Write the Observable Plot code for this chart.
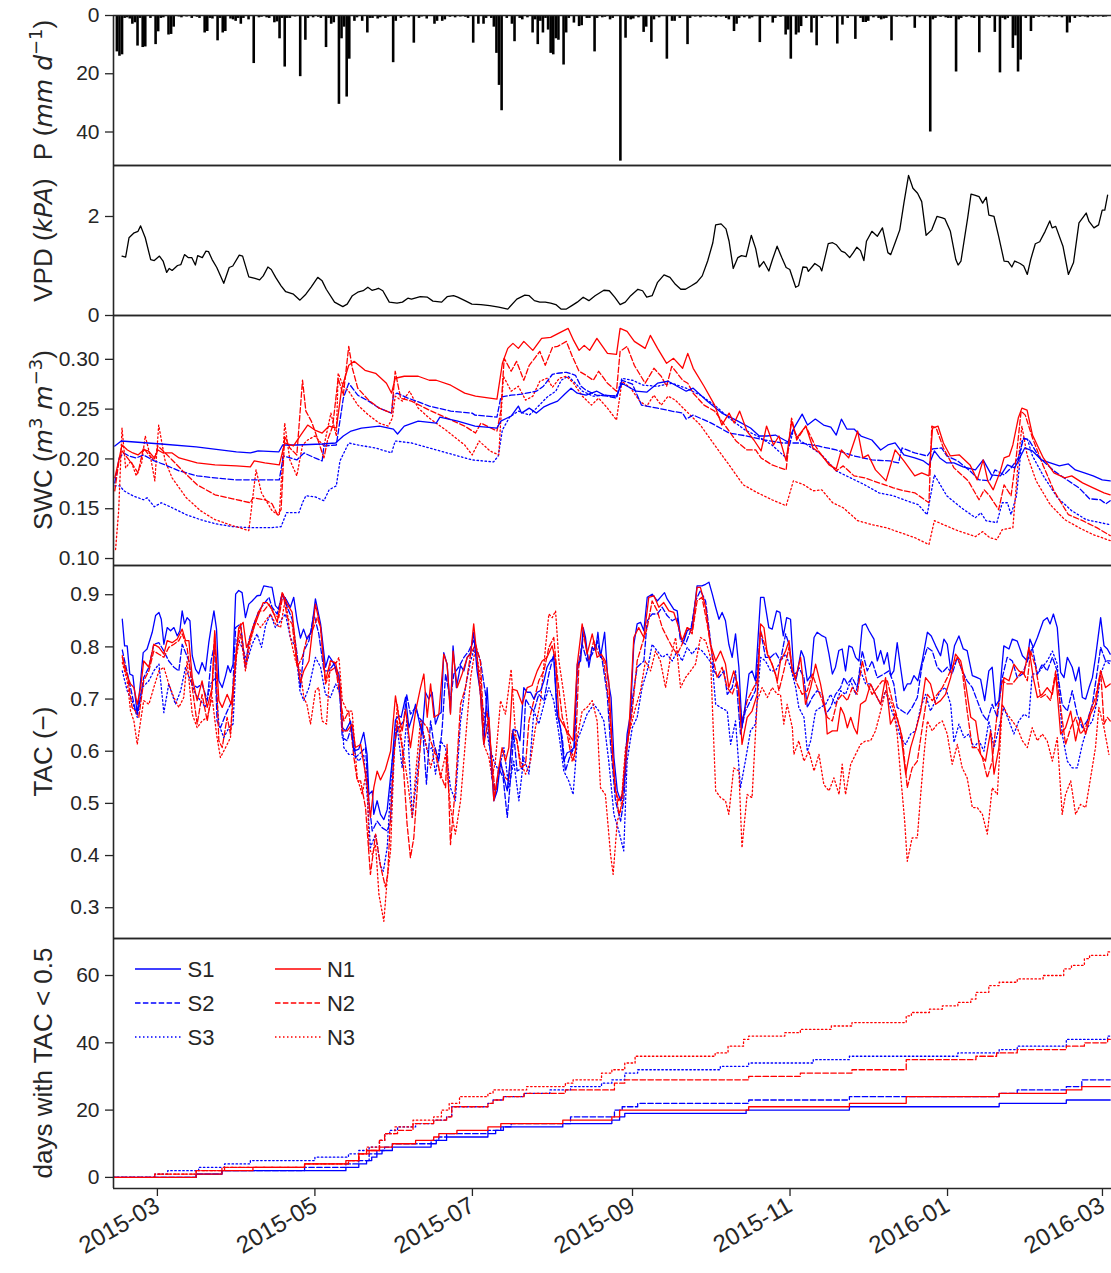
<!DOCTYPE html>
<html><head><meta charset="utf-8">
<script src="https://cdn.jsdelivr.net/npm/d3@7"></script>
<script src="https://cdn.jsdelivr.net/npm/@observablehq/plot@0.6"></script>
<style>
body{margin:0;background:#fff;}
#chart{width:1111px;}
#chart svg{display:block;overflow:visible;}
</style></head><body><div id="chart"></div>
<script>
// ---- data (day = days since 2015-02-12) ----
const precip = [[1,12.5],[2,14],[3,13.5],[4,1],[5,0.8],[6,1.2],[7,3],[8,2.5],[9,10.5],[10,1],[11,11],[12,10.8],[14,1],[16,10],[17,5.6],[18,1],[19,0.8],[21,6.7],[22,6.5],[23,4],[25,0.5],[26,0.8],[28,0.5],[30,1],[32,0.6],[33,1],[35,6],[36,5.5],[37,1],[38,1.2],[40,8.7],[41,1],[42,6],[43,5.5],[45,1.2],[46,1.5],[47,2],[48,1],[49,3],[50,1],[52,1.5],[54,16.5],[56,0.8],[57,0.6],[59,0.8],[60,1],[62,2.5],[63,2.2],[64,8],[65,1],[66,17.7],[67,1],[68,1],[70,0.5],[72,21],[74,8.5],[75,1],[77,0.8],[79,0.6],[80,1],[82,11],[83,1],[84,3],[85,2.5],[87,30.5],[88,8],[89,4],[90,28],[91,15],[93,2],[94,0.8],[96,2],[98,6],[99,1],[100,1],[102,1.2],[103,0.8],[105,1],[106,0.5],[108,16.2],[109,2],[111,1],[112,0.5],[114,0.8],[116,9.5],[118,1],[119,0.5],[121,1.2],[124,3],[125,2],[127,2],[128,1.5],[130,0.6],[132,0.8],[134,0.5],[136,0.6],[137,1],[139,9.5],[141,3],[143,3],[144,1],[146,1],[147,4],[148,13],[149,24],[150,32.7],[152,1],[154,3],[155,9],[157,1],[158,1.5],[160,0.8],[162,6],[163,1.5],[164,10],[165,2],[166,6],[167,1],[168,5],[169,13],[170,13.5],[171,8],[172,8.5],[174,17],[175,6],[176,1],[178,2.6],[180,3.8],[181,3.5],[183,1],[184,1],[186,12.5],[187,1],[189,0.8],[190,0.6],[192,1.5],[193,1],[196,50],[198,7.8],[199,1],[200,1.5],[201,1.2],[203,0.8],[205,5.8],[206,4],[208,9.3],[209,1.5],[211,0.8],[214,15],[216,2],[217,2],[219,1],[222,10],[223,1],[225,0.5],[227,0.8],[229,0.5],[231,0.6],[233,0.8],[235,0.5],[237,1],[238,1.5],[240,5.5],[241,3],[242,1],[244,0.8],[246,1.2],[247,0.8],[250,9.3],[251,1],[253,0.8],[255,2.6],[256,1],[258,0.6],[260,6.7],[261,5],[262,15],[264,6.7],[265,6],[266,3.8],[268,1],[270,6],[271,1],[272,10.4],[274,1],[276,0.5],[278,0.8],[280,9.8],[282,3.3],[284,1],[287,8.2],[289,1],[290,2.4],[291,2.4],[292,2],[294,0.8],[296,1],[297,1.5],[298,1.2],[299,1],[301,8.7],[303,0.6],[305,0.5],[307,0.8],[308,0.5],[310,4.4],[312,0.8],[314,1],[316,40],[317,1.5],[318,1],[320,0.6],[322,0.8],[323,1],[324,1],[326,19.4],[327,1.5],[328,1],[330,0.6],[332,0.8],[333,1],[335,12.8],[336,1],[338,0.8],[339,1],[341,5.8],[343,19.7],[344,1],[345,1.5],[346,1],[348,11.3],[349,7],[350,19.4],[351,15.3],[353,1],[355,5.5],[356,1],[358,0.6],[360,0.5],[362,0.8],[364,0.5],[365,0.6],[367,0.8],[369,6],[370,2.6],[372,1],[374,0.6],[376,0.5],[377,0.8],[379,0.6],[381,0.5],[383,0.6],[384,0.5]];

const vpd = [[3.3,1.2],[4.7,1.18],[6,1.57],[8,1.67],[9.5,1.7],[10.5,1.81],[12.3,1.57],[14.4,1.13],[15.8,1.11],[17.8,1.2],[19.2,1.1],[20.6,.87],[21.6,.95],[22.7,.91],[24.8,1.01],[26.1,1.03],[27.5,1.23],[28.9,1.17],[30.3,1.17],[31.7,1.02],[32.6,1.21],[34.4,1.17],[35.8,1.3],[36.8,1.29],[38.2,1.13],[40,.97],[42.7,.65],[44.8,.97],[46.2,1],[48.7,1.22],[50,1.2],[52.4,.78],[54.8,.75],[56.6,.72],[58,.8],[59.8,.98],[61.1,.93],[62.8,.77],[64.9,.6],[66.7,.48],[69.7,.43],[72.2,.31],[74.5,.43],[76.6,.58],[79.1,.77],[80.8,.7],[82.4,.53],[85.6,.27],[88.8,.18],[90.5,.23],[92.5,.4],[94.6,.47],[96.7,.5],[98.5,.57],[100.1,.51],[101.5,.53],[102.6,.55],[104.3,.5],[106.8,.27],[109.8,.25],[111.9,.27],[114,.35],[115.4,.33],[118.8,.38],[121.6,.37],[123.7,.29],[127.1,.27],[129.2,.38],[131.7,.4],[133.3,.37],[136.1,.3],[138.8,.23],[142.3,.22],[145.7,.2],[149.2,.17],[152.7,.13],[156.2,.33],[159.3,.41],[161,.4],[163,.3],[165.1,.27],[167.2,.27],[169.3,.25],[171.3,.22],[173.3,.13],[175.4,.13],[177.5,.2],[179.6,.27],[181.9,.37],[184.1,.3],[186.5,.4],[189.9,.51],[192,.5],[194.1,.37],[196.2,.22],[198.2,.27],[200.3,.4],[203.1,.53],[204.9,.5],[206.5,.37],[208.6,.4],[210.7,.67],[213.2,.82],[215.5,.77],[217.6,.63],[219.7,.53],[221.5,.53],[223.8,.6],[225.9,.67],[228,.8],[230.1,1.1],[232.1,1.47],[233.2,1.83],[235.3,1.85],[237.2,1.75],[238.4,1.5],[240,.95],[241.8,1.17],[243.2,1.21],[245,1.19],[247,1.62],[248.7,1.35],[250.1,.98],[251.8,1.09],[253.8,.9],[255.2,1.13],[257,1.4],[258.8,1.17],[260.5,.97],[261.9,.93],[264.2,.57],[265.3,.6],[267,.98],[268.5,.97],[269.1,.89],[271.6,1.05],[273.6,.98],[274.3,.9],[276.8,1.45],[278.5,1.47],[279.9,1.43],[281.9,1.3],[283.3,1.27],[285.1,1.17],[286.5,1.27],[287.9,1.38],[289.3,1.31],[290.6,1.11],[291.6,1.5],[293.7,1.7],[295.8,1.6],[297.8,1.77],[299.9,1.27],[301,1.23],[302.7,1.47],[304.5,1.73],[306.1,2.27],[307.9,2.83],[309.6,2.57],[311.4,2.47],[313,2.3],[314.7,1.62],[316.9,1.73],[318.9,2],[321,1.97],[322,1.95],[324.1,1.7],[326.2,1.13],[327.1,1.02],[328.2,1.1],[330.8,1.97],[332.1,2.45],[333.5,2.43],[335.2,2.4],[336.6,2.27],[338,2.39],[339,2.03],[341,2],[342.8,1.6],[344.9,1.1],[346.5,1.09],[347.9,.98],[349,1.1],[351.1,1.05],[352.5,1],[353.9,.83],[355.2,1.13],[357,1.45],[358.7,1.49],[360.8,1.7],[362.6,1.91],[363.5,1.77],[364.9,1.8],[367.7,1.4],[369.8,.83],[371.8,1.07],[373.9,1.87],[376.7,2.07],[377.8,1.9],[379.7,1.77],[381.5,1.83],[382.9,2.13],[383.9,2.13],[385,2.43]];

const swcS1 = [[0.5,.213],[3,.218],[18.5,.215],[32,.212],[47.6,.207],[53,.206],[56,.208],[64,.207],[65.5,.214],[71,.214],[80.8,.215],[86,.216],[89,.223],[92,.228],[96,.231],[103,.233],[108.4,.23],[110,.225],[112.6,.233],[118,.238],[125,.236],[126.4,.242],[133.3,.238],[140,.233],[148.5,.231],[150,.238],[154,.243],[156.8,.253],[158,.246],[161,.251],[163.8,.246],[166.5,.252],[169,.255],[172,.258],[174.7,.265],[177.2,.271],[179.6,.266],[183,.264],[187.2,.268],[190,.264],[194.8,.263],[196.9,.276],[202.4,.268],[206.5,.267],[210.7,.276],[214.8,.278],[218.3,.273],[221.8,.268],[224.5,.271],[230,.258],[235.6,.246],[241.1,.239],[246.7,.231],[250.1,.223],[253,.223],[256.3,.224],[261.2,.217],[263.3,.23],[266.7,.245],[268.8,.234],[271.8,.24],[275,.234],[277.8,.232],[279.9,.224],[281.9,.24],[284,.23],[286.8,.23],[289.5,.223],[293.7,.219],[297.1,.209],[299.9,.214],[302.7,.216],[306.1,.204],[310.3,.201],[313.7,.198],[315.8,.194],[317.9,.208],[320,.201],[322.7,.196],[325.5,.196],[329,.192],[333.8,.189],[336.8,.199],[340,.184],[343.5,.183],[346.2,.194],[349,.191],[352.9,.211],[355.9,.208],[359.4,.199],[362.8,.196],[366.3,.193],[369.8,.195],[372.5,.189],[376,.186],[379.4,.183],[382.9,.179],[386,.178]];
const swcS2 = [[0.5,.176],[2.2,.201],[4,.206],[6,.203],[8.8,.201],[11.6,.204],[15.8,.198],[20,.194],[25.4,.188],[32.4,.183],[39.3,.181],[47.6,.179],[53,.179],[64.2,.179],[65.8,.203],[71,.199],[73.8,.206],[78,.201],[80.8,.198],[81.5,.213],[86.3,.214],[89,.261],[91.1,.276],[94.6,.264],[98.8,.258],[102.9,.251],[107.7,.246],[108.4,.264],[109.8,.266],[114,.261],[117.4,.258],[122.3,.253],[130.6,.248],[138.9,.246],[140,.244],[148.5,.242],[150,.262],[154,.264],[158,.265],[163.8,.268],[166.5,.273],[170,.285],[172,.286],[175.4,.287],[178.9,.284],[181,.273],[183,.269],[187,.264],[191.3,.263],[194.8,.261],[196.9,.279],[201,.275],[202.5,.266],[204.5,.254],[210.7,.251],[216.2,.248],[220.4,.246],[221.8,.24],[224.5,.244],[231.5,.236],[238.4,.226],[245.3,.223],[252.2,.219],[259.1,.216],[266,.216],[272.9,.213],[279.9,.209],[286.8,.203],[293.7,.199],[300.6,.198],[304,.196],[305.4,.211],[310.3,.206],[315.1,.203],[317.2,.21],[320.7,.211],[322.7,.203],[326.9,.198],[331.7,.188],[335.2,.179],[339.3,.178],[341.4,.189],[344.9,.184],[347.6,.191],[350.4,.201],[352.5,.221],[354.5,.219],[358.7,.201],[364.2,.188],[369.8,.178],[373.9,.171],[378,.16],[382.2,.159],[384.3,.155],[386,.158]];
const swcS3 = [[0.5,.173],[2.5,.173],[4,.168],[7.5,.163],[11.6,.159],[13,.161],[15.8,.152],[18.5,.156],[22.7,.151],[28.2,.144],[33.7,.139],[39.3,.135],[46.2,.132],[53,.131],[61.4,.131],[64.9,.132],[67,.146],[71.8,.146],[73.2,.156],[74.5,.163],[78,.162],[81.5,.158],[83.5,.169],[86.3,.173],[87.7,.198],[91.1,.216],[94.6,.214],[101.5,.211],[107.7,.206],[109.1,.218],[115.4,.216],[122.3,.211],[130.6,.205],[138.9,.199],[147.2,.197],[149,.203],[150.6,.229],[153.4,.242],[156.8,.248],[161,.244],[163.8,.251],[167.9,.262],[171.3,.268],[173.4,.279],[176.1,.283],[178.9,.276],[181.6,.268],[185.8,.263],[190,.264],[194.8,.263],[196.9,.281],[201,.279],[205.2,.274],[210.7,.273],[216.2,.276],[221.8,.271],[227.3,.264],[232.8,.254],[238.4,.241],[244.6,.229],[249.4,.223],[255,.214],[260.5,.201],[263.3,.229],[266,.218],[268.8,.214],[274.3,.204],[279.9,.188],[285.4,.181],[290.9,.174],[296.4,.166],[302,.163],[306.1,.159],[311.7,.154],[315.1,.144],[317.9,.184],[319.3,.178],[322.7,.163],[328.3,.151],[333.8,.141],[335.9,.146],[337.9,.138],[342.1,.136],[344.2,.156],[346.2,.156],[347.6,.144],[349.7,.163],[351.8,.218],[353.8,.221],[355.9,.203],[360.1,.183],[365.6,.161],[371.1,.148],[376.7,.139],[382.2,.136],[386,.134]];
const swcN1 = [[0.5,.181],[2,.198],[3.3,.214],[5.4,.209],[7.5,.206],[9.5,.204],[11.6,.209],[13.5,.208],[15.8,.201],[17.2,.209],[19.2,.206],[22.7,.206],[25.4,.201],[32.4,.196],[39.3,.194],[47.6,.193],[53,.192],[54.5,.198],[58.6,.196],[64.2,.194],[66.3,.216],[69.7,.213],[72.5,.224],[75.2,.234],[78,.229],[80.8,.226],[83.5,.233],[86.3,.231],[88.4,.271],[91.1,.294],[93.2,.298],[97.4,.289],[101.5,.286],[105.7,.276],[107.7,.266],[109.1,.281],[112.6,.283],[118,.283],[122.3,.279],[125,.279],[130.6,.274],[136,.266],[140.2,.263],[148.5,.26],[150.6,.296],[152.7,.311],[154.7,.316],[156.8,.311],[158.9,.318],[162.4,.309],[165.8,.321],[169.3,.322],[172.3,.326],[176.1,.331],[178.2,.319],[180.3,.309],[182.3,.314],[184.4,.309],[187.2,.321],[191.3,.306],[194.8,.305],[196.2,.331],[198.9,.328],[201.7,.318],[205.9,.311],[207.9,.324],[210.7,.311],[214.2,.296],[216.9,.301],[220.4,.291],[222.4,.306],[224.5,.291],[228.7,.273],[232.8,.254],[235.6,.234],[238.4,.246],[240.4,.236],[242.5,.248],[245.3,.228],[248,.219],[250.8,.208],[252.9,.233],[255.6,.214],[257.7,.223],[260.5,.198],[262.6,.238],[264.6,.221],[268.1,.233],[270.9,.211],[273.6,.206],[277.1,.194],[279.9,.19],[281.9,.209],[284.7,.201],[288.2,.228],[290.2,.201],[292.3,.204],[295.1,.189],[299.2,.178],[302.7,.209],[306.1,.198],[310.3,.183],[313,.186],[315.8,.183],[317.2,.231],[319.3,.233],[321.4,.216],[324.1,.203],[327.6,.204],[331.7,.194],[334.5,.179],[336.8,.199],[338.6,.178],[340.7,.169],[343.5,.188],[344.9,.201],[346.9,.203],[348.3,.214],[350.4,.241],[351.8,.251],[353.8,.249],[355.9,.224],[360.1,.201],[364.2,.186],[368.4,.181],[371.1,.183],[375.3,.176],[379.4,.171],[383.6,.166],[386,.164]];
const swcN2 = [[0.5,.168],[2,.196],[3.3,.208],[5.4,.201],[7.5,.194],[9.5,.186],[11.6,.211],[13.7,.204],[15.8,.199],[17.2,.213],[20,.206],[22.7,.199],[26.8,.188],[32.4,.174],[39.3,.164],[46.2,.16],[53,.156],[54,.161],[58.6,.159],[61.4,.155],[63.5,.144],[64.9,.149],[66.3,.223],[68.3,.211],[71,.204],[73.2,.279],[74.5,.248],[76.6,.238],[78,.228],[81.5,.201],[82.9,.219],[84.9,.233],[87,.281],[89,.264],[91.1,.313],[92.5,.291],[94.6,.271],[98.8,.259],[102.9,.251],[107.7,.246],[109.1,.288],[111.2,.261],[115.4,.258],[122.3,.249],[129.2,.241],[136,.233],[140.2,.226],[142.3,.236],[148.5,.228],[150,.248],[151.3,.301],[154,.288],[156.1,.298],[158.9,.279],[161,.294],[163.1,.301],[165.1,.308],[167.2,.294],[170,.312],[172,.313],[175.4,.318],[177.5,.304],[180.3,.288],[183,.284],[185.8,.279],[187.9,.288],[191.3,.276],[194.8,.268],[196.2,.308],[198.9,.313],[201.7,.294],[205.9,.276],[209.3,.291],[212.1,.283],[214.2,.273],[216.2,.293],[220.4,.279],[222.4,.276],[224.5,.266],[228.7,.254],[232.8,.248],[237,.233],[241.1,.218],[245.3,.209],[248.7,.209],[250.8,.201],[255,.194],[260.5,.189],[262.6,.241],[264.6,.219],[268.1,.233],[271.6,.214],[274.3,.203],[279.9,.188],[282.6,.193],[286.8,.183],[290.9,.181],[296.4,.176],[302,.171],[306.1,.168],[310.3,.166],[315.8,.156],[316.9,.233],[318.6,.231],[321.4,.211],[325.5,.191],[331,.178],[335.2,.159],[337.2,.169],[339.3,.163],[342.8,.149],[344.9,.174],[347.6,.163],[349.7,.204],[351.5,.248],[353.1,.244],[355.9,.221],[360.1,.193],[364.2,.168],[369.8,.144],[375.3,.138],[380.8,.131],[386,.123]];
const swcN3 = [[0.8,.109],[2,.148],[3.3,.231],[4.7,.191],[6.8,.198],[8.8,.183],[10.9,.196],[12.3,.223],[14.4,.201],[16,.178],[17.5,.234],[20,.198],[22.7,.181],[28.2,.161],[33.7,.148],[39.3,.139],[46.2,.133],[52.4,.128],[55.2,.189],[57.3,.166],[61.4,.148],[64.2,.143],[66.3,.236],[68.3,.199],[71,.183],[73.2,.214],[75.2,.219],[78,.223],[81.5,.213],[84.2,.246],[86.3,.223],[87,.286],[89,.273],[91.1,.268],[94.6,.254],[98.8,.244],[102.9,.236],[106.4,.233],[108,.241],[109.1,.263],[111.9,.258],[114.7,.268],[118,.251],[122.3,.241],[129.2,.228],[136,.214],[138.9,.204],[141.6,.218],[145.8,.208],[149.2,.204],[151,.283],[154,.268],[156.8,.273],[159.6,.259],[162.4,.263],[165.1,.278],[167.9,.281],[170,.272],[172.7,.281],[175.4,.283],[178.2,.276],[181.6,.263],[185.1,.254],[187.9,.261],[191.3,.251],[194.8,.239],[196.9,.278],[200.3,.271],[203.8,.258],[206.5,.253],[209.3,.264],[212.1,.254],[214.8,.263],[217.6,.259],[221.8,.248],[227.3,.234],[232.8,.214],[238.4,.194],[243.9,.174],[249.4,.166],[255,.159],[260.5,.153],[263.3,.178],[267.4,.174],[270.9,.168],[274.3,.169],[278.5,.156],[282.6,.151],[288.2,.138],[293.7,.134],[299.2,.131],[304.7,.126],[310.3,.121],[315.8,.114],[317.9,.138],[321.4,.134],[326.9,.128],[333.8,.122],[336.6,.127],[339.3,.121],[342.1,.119],[344.2,.129],[348.3,.131],[350.4,.198],[351.8,.233],[353.8,.204],[357.3,.178],[362.8,.154],[368.4,.139],[373.9,.131],[379.4,.124],[386,.118]];

const tacS1 = [[3.4,.853],[4.3,.802],[5.3,.802],[6.3,.748],[7.5,.745],[9.2,.671],[10.5,.735],[11.5,.789],[13,.796],[15,.828],[16.3,.86],[17.6,.866],[18.5,.853],[19.5,.805],[20.8,.837],[22.1,.831],[23.4,.837],[24.7,.821],[25.7,.831],[26.6,.869],[27.5,.844],[28.5,.856],[29.6,.85],[30.5,.783],[31.8,.757],[33,.748],[34.3,.77],[35.6,.754],[36.9,.808],[37.8,.837],[38.9,.869],[39.9,.834],[40.8,.735],[42.1,.722],[43.4,.745],[44.3,.764],[45.3,.751],[46.3,.767],[47.3,.901],[48.5,.908],[49.8,.904],[51.1,.856],[52.4,.882],[53.7,.888],[55.6,.898],[56.9,.899],[58.2,.917],[60.2,.915],[61.4,.914],[62.7,.879],[64,.872],[65.3,.901],[67,.89],[68.5,.876],[69.8,.895],[71.1,.85],[72.4,.817],[73.6,.834],[74.9,.815],[76.6,.828],[78.2,.892],[80.2,.844],[82.1,.761],[83.4,.783],[84.7,.773],[86,.761],[87.3,.748],[88.6,.645],[89.9,.639],[91.8,.658],[93.1,.6],[95,.604],[96.9,.636],[98.2,.594],[98.9,.517],[100.2,.524],[100.8,.479],[102.1,.505],[103.4,.479],[104.7,.469],[106,.488],[107.9,.58],[109.2,.66],[110.5,.668],[111.4,.665],[113.1,.703],[114.4,.645],[115.7,.665],[117,.69],[118.2,.661],[119.5,.633],[120.8,.713],[122.1,.7],[123.4,.713],[124.7,.652],[126,.671],[126.9,.674],[127.9,.789],[129.2,.767],[130.5,.674],[131.5,.802],[132.8,.722],[134.4,.764],[135.7,.754],[137,.78],[138.3,.789],[139.5,.828],[140.8,.754],[142.1,.713],[143.4,.613],[144.7,.722],[146,.607],[147.3,.505],[148.6,.524],[149.9,.581],[151.2,.549],[152.5,.524],[153.8,.594],[154.8,.642],[156.3,.639],[157.4,.62],[158.9,.722],[160.2,.713],[161.5,.713],[162.8,.7],[164.1,.713],[165.4,.716],[166.7,.735],[167.9,.761],[169.2,.773],[170.5,.78],[171.8,.671],[173.1,.645],[174.4,.581],[175.7,.597],[177,.6],[178.3,.607],[179.6,.767],[180.9,.773],[181.9,.837],[182.8,.818],[184.1,.761],[185.4,.799],[186.7,.793],[187.6,.828],[188.6,.78],[190.2,.828],[191.4,.741],[192.7,.703],[193.8,.588],[195.1,.524],[196.4,.505],[197.6,.53],[198.9,.633],[200.2,.671],[201.5,.805],[202.8,.844],[204.1,.847],[205.4,.831],[206.7,.895],[208.6,.901],[210.6,.888],[211.8,.895],[213.4,.904],[214.4,.892],[215.7,.882],[217,.872],[218.3,.869],[219.6,.818],[220.9,.811],[222.2,.831],[224.1,.837],[226,.917],[227.9,.917],[229.3,.92],[230.6,.924],[231.9,.901],[233.2,.876],[234.5,.853],[235.7,.866],[237,.85],[238.3,.805],[239.6,.78],[240.9,.825],[242.2,.761],[243.4,.645],[244.7,.69],[246.1,.748],[247.3,.754],[248.6,.735],[250.6,.895],[251.9,.895],[253.8,.837],[255.1,.834],[256.8,.869],[258.1,.866],[259.4,.821],[260.7,.856],[262.2,.853],[263.5,.748],[264.8,.751],[266.3,.793],[267.4,.78],[268.7,.735],[270,.745],[271.3,.818],[272.5,.828],[274.5,.821],[275.8,.818],[277.1,.786],[278.4,.748],[279.6,.761],[280.9,.793],[282.2,.796],[283.5,.754],[284.8,.802],[286.1,.799],[287.4,.78],[288.7,.773],[290,.841],[291.3,.844],[292.6,.831],[294.5,.815],[295.8,.773],[297.1,.793],[298.4,.767],[299.7,.789],[301,.745],[302.2,.754],[303.5,.808],[304.8,.761],[306.1,.716],[307.4,.729],[308.7,.729],[310,.745],[311.5,.735],[313.2,.773],[315.2,.828],[316.7,.821],[318.4,.802],[320.3,.783],[321.6,.815],[322.9,.805],[324.2,.757],[325.7,.802],[327.4,.821],[329.1,.796],[330.6,.793],[332.6,.745],[334.5,.741],[335.8,.738],[337.4,.697],[339,.754],[340.3,.761],[341.6,.687],[342.9,.697],[344.8,.802],[346.8,.796],[348.1,.815],[350,.811],[352,.783],[353.9,.773],[354.9,.815],[356.2,.799],[357.8,.818],[360.1,.85],[361.6,.856],[362.7,.844],[364,.863],[365.5,.837],[366.8,.751],[368.1,.741],[369.4,.78],[371.3,.761],[372.6,.735],[373.9,.761],[375.2,.703],[376.5,.7],[377.8,.722],[379.1,.741],[380.3,.78],[382.3,.856],[383.6,.802],[384.9,.796],[386,.786]];
const tacS2 = [[3.4,.794],[4.6,.767],[6.6,.722],[8.5,.677],[9.8,.684],[11.7,.741],[13.7,.761],[15.6,.805],[17.6,.808],[19.5,.792],[21.4,.773],[23.4,.761],[25.3,.754],[26.6,.805],[27.9,.789],[29.2,.773],[30.5,.729],[32.4,.722],[34.3,.729],[36.3,.697],[37.8,.773],[39.1,.805],[40.1,.658],[41.4,.645],[43,.665],[44.7,.684],[46,.697],[47.3,.837],[49.2,.844],[51.1,.761],[52.4,.812],[54.4,.844],[56.3,.869],[58.2,.882],[60.2,.895],[61.4,.876],[63.4,.863],[65.3,.901],[67.3,.876],[69.2,.853],[71.1,.786],[72.4,.722],[73.7,.792],[75.7,.812],[77.6,.863],[79.5,.825],[81.5,.754],[83.4,.754],[85.3,.767],[87.3,.735],[88.6,.626],[90.5,.62],[92.4,.652],[93.7,.588],[95.7,.597],[97.6,.607],[98.9,.505],[100.2,.447],[102.1,.466],[104.1,.453],[106,.447],[107.3,.466],[108.6,.6],[109.9,.648],[110.5,.645],[112.4,.658],[113.5,.709],[115,.671],[117,.684],[118.2,.665],[119.5,.658],[121.2,.537],[122.8,.658],[124.1,.613],[126,.581],[127.3,.645],[128.6,.748],[130.5,.697],[131.8,.748],[133.7,.761],[135.7,.78],[137.6,.792],[139.5,.812],[142.1,.773],[144.1,.709],[145.4,.633],[146.6,.549],[147.9,.517],[149.2,.568],[150.9,.549],[152.5,.473],[153.8,.549],[155,.633],[156.3,.562],[158.3,.568],[159.6,.7],[161.5,.684],[162.8,.677],[164.7,.709],[166.7,.697],[168.6,.748],[170.5,.786],[171.8,.677],[173.8,.626],[175,.562],[177,.594],[178.5,.607],[179.6,.754],[181.5,.805],[183.4,.773],[185.4,.786],[187.3,.812],[189.3,.773],[191.2,.709],[192.5,.613],[194.4,.505],[196.4,.466],[197.6,.505],[198.9,.613],[200.9,.697],[202.8,.761],[205.4,.773],[206.7,.85],[208.6,.863],[210.6,.863],[212.5,.876],[214.4,.86],[216.4,.85],[218.3,.856],[219.6,.812],[221.5,.805],[223.5,.831],[225.4,.888],[227.3,.908],[229.3,.888],[231.2,.812],[232.5,.754],[234.4,.741],[236.4,.754],[237.7,.709],[239.6,.722],[240.9,.754],[242.8,.633],[244.7,.677],[246.7,.697],[248.6,.716],[250.6,.831],[252.5,.78],[254.5,.78],[256.4,.789],[258.3,.773],[260.3,.825],[261.6,.805],[262.9,.754],[264.2,.735],[265.4,.761],[267.4,.741],[268.7,.684],[270.6,.703],[272.5,.716],[274.5,.709],[275.8,.671],[277.7,.684],[279.6,.709],[281.6,.722],[282.9,.741],[284.2,.729],[286.1,.741],[288,.722],[290,.792],[291.9,.754],[293.8,.773],[295.8,.741],[298.4,.748],[300.3,.754],[302.2,.729],[303.5,.684],[305.5,.677],[307.4,.671],[309.3,.684],[311.3,.703],[313.2,.767],[315.2,.799],[317.1,.792],[319,.761],[321,.751],[322.9,.761],[324.8,.748],[326.8,.78],[328.7,.754],[330.6,.735],[332.6,.722],[334.5,.697],[336.5,.671],[338.4,.658],[340.3,.69],[342.3,.665],[344.2,.741],[346.1,.78],[348.1,.773],[350,.741],[352,.748],[353.9,.773],[355.8,.799],[357.8,.748],[359.7,.767],[361.6,.754],[363.6,.78],[365.5,.754],[367.4,.69],[369.4,.677],[371.3,.716],[373.2,.671],[375.2,.645],[377.1,.658],[379.1,.69],[381,.754],[382.3,.799],[384.2,.773],[386,.773]];
const tacS3 = [[3.4,.754],[5.3,.716],[7.2,.697],[9.2,.665],[11.1,.722],[13.7,.735],[15.6,.754],[17.6,.767],[19.5,.674],[21.4,.729],[24,.69],[26,.716],[27.9,.761],[29.8,.735],[31.8,.709],[33.7,.697],[35.6,.684],[37.6,.729],[39.5,.741],[40.8,.652],[42.7,.626],[44.7,.645],[46.3,.652],[47.9,.818],[49.8,.799],[51.8,.773],[53.7,.805],[55.6,.825],[57.3,.799],[58.9,.841],[60.8,.863],[62.7,.837],[64.7,.85],[66.6,.863],[68.5,.818],[70.5,.799],[72.2,.716],[73.7,.697],[75.7,.722],[78.2,.78],[80.2,.761],[82.1,.709],[84,.703],[86,.729],[87.9,.709],[89.2,.607],[91.1,.594],[93.1,.594],[95,.581],[96.9,.594],[98.2,.517],[99.5,.415],[101.5,.441],[103.4,.38],[104.5,.37],[106,.415],[107.9,.581],[109.9,.645],[111.8,.568],[113.7,.665],[115.7,.473],[117.6,.556],[119.5,.645],[121.5,.6],[123.4,.607],[124.7,.556],[126.6,.62],[128.6,.607],[130.5,.53],[132.4,.505],[134.4,.658],[136.3,.722],[138.3,.773],[140.2,.805],[142.1,.709],[144.1,.658],[145.4,.613],[147.3,.581],[149.2,.562],[151.2,.607],[153.1,.53],[155,.581],[157,.505],[158.9,.588],[160.9,.556],[162.8,.677],[164.7,.652],[166.7,.69],[168.6,.722],[170.5,.697],[172.5,.633],[174.4,.562],[176.3,.543],[178,.517],[179.6,.62],[181.5,.645],[183.4,.671],[186,.69],[188,.677],[189.9,.658],[191.8,.581],[193.8,.479],[195.7,.447],[197.6,.409],[198.9,.581],[200.9,.645],[202.8,.665],[204.7,.722],[206.7,.754],[208.6,.805],[210.6,.792],[212.5,.78],[214.4,.786],[216.4,.773],[218.3,.792],[220.2,.773],[222.2,.799],[224.1,.786],[226,.799],[228,.792],[229.9,.78],[231.9,.767],[233.2,.69],[235.1,.684],[237.7,.677],[239,.613],[240.9,.658],[242.8,.53],[244.7,.581],[246.7,.639],[248.6,.652],[250.6,.78],[252.5,.773],[254.5,.754],[256.4,.754],[258.3,.773],[260.3,.786],[262.2,.761],[264.2,.722],[265.4,.684],[267.4,.665],[268.7,.6],[270,.62],[271.9,.677],[273.8,.684],[275.8,.69],[277.7,.709],[279.6,.69],[281.6,.716],[283.5,.709],[285.5,.735],[287.4,.709],[289.3,.754],[291.3,.729],[293.2,.729],[295.1,.709],[297.1,.69],[299,.716],[300.9,.684],[302.9,.658],[304.8,.626],[306.8,.613],[308.7,.633],[310.6,.639],[312.6,.684],[314.5,.709],[316.4,.677],[318.4,.697],[320.3,.716],[322.2,.722],[324.2,.69],[325.5,.617],[327.4,.652],[329.4,.626],[331.3,.633],[333.2,.607],[335.2,.62],[337.1,.6],[339,.658],[341,.607],[342.9,.645],[344.8,.684],[346.8,.658],[348.7,.633],[350.6,.658],[352.6,.671],[354.5,.665],[355.8,.748],[357.8,.748],[359.7,.761],[361.6,.773],[363.6,.792],[365.5,.767],[367.4,.633],[369.4,.581],[371.3,.568],[373.2,.568],[375.2,.613],[377.1,.645],[379.1,.658],[381,.697],[382.3,.748],[384.2,.773],[386,.767]];
const tacN1 = [[3.4,.783],[4.6,.754],[6.6,.729],[7.9,.722],[9.2,.69],[10.5,.722],[11.7,.773],[13.7,.761],[15.6,.805],[17.6,.799],[19.5,.786],[20.8,.812],[22.7,.808],[24.7,.815],[26.6,.834],[27.9,.812],[29.2,.812],[30.5,.741],[32.4,.697],[34.3,.735],[36.3,.684],[38.2,.722],[39.2,.831],[40.8,.697],[42.1,.684],[44,.709],[45.6,.69],[47.3,.767],[48.5,.837],[50.2,.847],[51.5,.799],[52.8,.812],[54.4,.837],[56.3,.863],[58,.885],[59.5,.885],[61.4,.872],[63.4,.847],[65.3,.904],[67.3,.882],[69.2,.866],[71.1,.773],[72.4,.732],[73.7,.754],[75.7,.773],[78.2,.882],[80.2,.837],[82.1,.735],[84,.773],[86,.77],[87.9,.722],[88.6,.639],[90.5,.639],[92.4,.652],[93.7,.607],[95.7,.613],[97.6,.556],[98.2,.537],[99.5,.473],[100.8,.53],[102.1,.562],[103.4,.545],[105.3,.565],[107.3,.6],[109.2,.706],[110.5,.665],[111.8,.639],[113.1,.68],[115,.607],[117,.677],[118.9,.722],[120.2,.748],[121.5,.665],[122.8,.729],[124.1,.665],[126,.671],[127.9,.786],[129.2,.767],[130.5,.671],[131.5,.792],[133.1,.722],[135,.748],[137,.78],[138.3,.786],[139.5,.844],[140.8,.78],[142.1,.709],[143.4,.613],[145.4,.665],[147.3,.505],[149.2,.568],[150.5,.607],[151.8,.581],[153.1,.607],[154.4,.719],[156.3,.716],[158.3,.69],[160.2,.722],[162.1,.726],[164.1,.754],[166,.773],[167.9,.78],[169.9,.802],[171.2,.773],[172.5,.665],[174.4,.649],[176.3,.633],[178,.62],[179.6,.767],[181.5,.844],[183.4,.786],[185.4,.825],[187.3,.78],[188.9,.786],[190.5,.773],[191.8,.735],[193.1,.613],[194.4,.524],[195.7,.505],[197,.517],[198.3,.594],[199.6,.639],[201.5,.818],[203.4,.837],[205.4,.818],[207.3,.895],[209.3,.898],[211.2,.876],[213.1,.885],[215.1,.869],[217,.866],[218.9,.837],[220.2,.812],[222.2,.837],[224.1,.831],[226,.914],[227.3,.914],[229.3,.876],[231.2,.805],[233.2,.773],[235.1,.792],[237,.767],[238.3,.722],[240.2,.754],[242.2,.716],[243.4,.613],[245.4,.665],[247.3,.677],[249.3,.709],[250.6,.844],[251.9,.837],[253.2,.786],[255.1,.767],[257.1,.735],[258.3,.773],[260.3,.792],[261.6,.812],[262.9,.754],[264.2,.741],[266.1,.78],[268,.69],[270,.722],[271.9,.767],[273.8,.729],[275.8,.677],[276.4,.633],[278.4,.639],[280.3,.639],[281.6,.684],[282.9,.671],[284.2,.645],[285.5,.665],[286.8,.645],[288,.633],[289.3,.69],[291.3,.697],[293.2,.729],[295.1,.709],[297.1,.69],[299,.741],[300.9,.652],[302.9,.671],[304.8,.639],[306.8,.556],[308.7,.607],[310.6,.639],[312.6,.677],[314.5,.741],[316.4,.729],[318.4,.69],[320.3,.697],[322.2,.709],[324.2,.741],[326.1,.786],[328.1,.773],[330,.729],[332,.665],[333.9,.658],[335.8,.594],[337.7,.581],[339.7,.639],[341,.556],[342.9,.607],[344.8,.741],[346.8,.735],[348.7,.767],[350.6,.754],[352.6,.748],[354.5,.799],[356.2,.741],[357.8,.703],[359.7,.709],[361.6,.722],[363.6,.709],[364.9,.748],[366.8,.633],[368.7,.645],[370.7,.677],[372.6,.62],[374.5,.665],[376.5,.633],[378.4,.671],[380.3,.69],[382.3,.754],[384.2,.722],[386,.729]];
const tacN2 = [[3.4,.78],[5.3,.748],[7.2,.684],[8.5,.677],[9.8,.665],[11.7,.735],[13.7,.754],[15.6,.792],[17.6,.786],[19.5,.78],[21.4,.799],[23.4,.805],[25.3,.812],[26.6,.825],[28.5,.799],[30.5,.722],[32.4,.652],[34.3,.709],[36.3,.658],[38.2,.716],[39.2,.825],[40.8,.62],[42.1,.607],[44,.665],[45.3,.633],[47.3,.786],[49.2,.844],[51.1,.761],[52.8,.818],[54.4,.844],[56.3,.869],[58.2,.869],[60.2,.882],[62.1,.863],[64,.856],[65.7,.901],[67.3,.856],[69.2,.844],[71.1,.761],[73.1,.78],[75,.818],[77,.831],[78.9,.856],[80.2,.837],[82.1,.729],[84,.754],[86,.761],[87.9,.697],[89.2,.658],[91.1,.677],[93.1,.588],[94.4,.543],[95.7,.543],[97.6,.492],[99.5,.364],[101.5,.441],[103.4,.38],[105.3,.34],[106.2,.364],[107.3,.479],[108.6,.594],[109.9,.658],[111.8,.607],[113.7,.46],[115,.396],[116.3,.434],[118.2,.568],[119.5,.658],[121.5,.645],[122.8,.62],[124.7,.594],[126.6,.556],[128.6,.53],[129.2,.613],[130.5,.421],[132.4,.53],[134.4,.69],[136.3,.722],[138.3,.786],[140.2,.805],[142.1,.773],[143.4,.645],[144.7,.677],[146.6,.581],[147.9,.517],[149.9,.575],[151.8,.549],[153.1,.543],[154.4,.639],[156.3,.62],[157.6,.568],[159.6,.575],[160.9,.658],[162.8,.697],[164.7,.735],[166.7,.754],[168.6,.799],[170.5,.818],[171.8,.748],[173.8,.665],[175.7,.633],[177.6,.581],[178.9,.6],[180.2,.761],[182.1,.825],[184.1,.773],[186,.812],[188,.786],[189.9,.773],[191.8,.697],[193.8,.556],[195.7,.479],[197,.498],[198.9,.607],[200.9,.677],[202.8,.773],[204.7,.805],[206.7,.837],[208.6,.888],[210.6,.869],[212.5,.837],[214.4,.818],[216.4,.799],[218.3,.786],[220.2,.805],[222.2,.837],[224.1,.825],[226,.888],[227.9,.895],[229.9,.844],[231.8,.786],[233.8,.741],[235.7,.761],[237.7,.722],[239.6,.709],[241.5,.735],[243.4,.658],[245.4,.697],[247.3,.716],[249.3,.735],[250.6,.831],[252.5,.799],[254.5,.773],[256.4,.748],[257.7,.716],[259.6,.754],[261.6,.799],[262.9,.754],[264.8,.729],[266.7,.709],[268.7,.716],[270.6,.748],[272.5,.722],[274.5,.697],[276.4,.665],[278.4,.658],[280.3,.697],[282.2,.709],[284.2,.697],[286.1,.722],[288,.709],[290,.773],[291.9,.729],[293.8,.709],[295.8,.722],[297.7,.735],[299.7,.735],[301.6,.697],[303.5,.665],[305.5,.626],[307.4,.53],[309.3,.568],[311.3,.581],[313.2,.645],[315.2,.709],[317.1,.697],[319,.709],[321,.722],[322.9,.741],[324.8,.761],[326.8,.78],[328.7,.754],[330.6,.677],[332.6,.607],[334.5,.607],[336.5,.588],[338.4,.549],[340.3,.581],[342.3,.677],[344.2,.735],[346.1,.729],[348.1,.729],[350,.741],[352,.754],[353.9,.735],[355.2,.792],[357.1,.761],[359.1,.703],[361,.709],[362.9,.697],[364.9,.754],[366.8,.684],[368.7,.613],[370.7,.645],[372.6,.665],[374.5,.633],[376.5,.645],[378.4,.677],[380.3,.703],[382.3,.754],[383.6,.652],[384.9,.665],[386,.658]];
const tacN3 = [[3.4,.77],[5.3,.735],[6.6,.677],[7.9,.658],[9.2,.613],[10.5,.658],[11.7,.697],[13.7,.69],[15.6,.722],[17.6,.754],[19.5,.761],[21.4,.729],[23.4,.703],[25.3,.684],[27.2,.703],[28.5,.773],[30.5,.671],[32.4,.645],[34.3,.658],[36.3,.665],[38.2,.703],[39.9,.633],[41.4,.588],[43.4,.607],[45.3,.626],[47.3,.773],[49.2,.825],[51.1,.754],[53.1,.812],[55,.85],[56.9,.837],[58.9,.85],[60.8,.863],[62.7,.844],[64.7,.837],[66.6,.895],[68.5,.818],[70.5,.773],[72.4,.754],[73.7,.703],[74.9,.69],[76.3,.652],[78.2,.716],[79.5,.722],[80.8,.658],[82.5,.652],[84,.773],[86,.767],[87.3,.78],[88.6,.697],[90.5,.677],[92.4,.677],[94.4,.549],[96.3,.517],[98.2,.568],[98.9,.415],[100.2,.402],[101.5,.421],[102.8,.325],[104.7,.274],[106,.355],[107.3,.41],[108.6,.58],[109.9,.69],[111.8,.613],[113.7,.549],[115.7,.473],[117,.556],[118.9,.658],[120.8,.62],[122.8,.568],[124.7,.607],[126.6,.549],[128.6,.594],[130.5,.492],[132.4,.441],[134.4,.505],[136.3,.62],[138.3,.741],[140.2,.799],[142.1,.741],[143.4,.613],[145.4,.588],[146.6,.549],[147.9,.581],[149.9,.697],[151.8,.671],[154,.757],[155.7,.633],[157.6,.581],[159.6,.556],[161.5,.581],[163.4,.645],[165.4,.697],[167.3,.799],[168.6,.863],[169.9,.856],[171.2,.869],[172.5,.773],[174.4,.709],[176.3,.633],[178.3,.581],[179.6,.626],[181.5,.677],[183.4,.684],[185.4,.697],[187.3,.658],[188.6,.53],[190.5,.517],[192.5,.402],[193.5,.364],[195.1,.466],[196.4,.485],[198.3,.607],[200.2,.645],[202.2,.684],[204.1,.716],[206,.773],[208,.754],[209.9,.792],[211.8,.773],[213.8,.722],[215.7,.78],[217.7,.818],[219.6,.722],[221.5,.741],[223.5,.754],[225.4,.767],[227.3,.818],[229.3,.812],[231.2,.78],[233.2,.524],[235.1,.511],[237,.505],[238.3,.479],[240.2,.568],[242.2,.562],[243.4,.415],[245.4,.517],[247.3,.511],[249.3,.697],[251.2,.722],[253.2,.703],[255.1,.722],[257.1,.709],[258.3,.709],[259.6,.652],[260.9,.69],[262.9,.645],[263.5,.594],[265.4,.62],[267.4,.581],[269.3,.6],[271.3,.562],[273.2,.594],[275.1,.536],[277.1,.524],[279,.549],[281,.517],[282.2,.575],[283.5,.517],[285.5,.575],[287.4,.594],[289.3,.613],[291.3,.62],[293.2,.62],[295.1,.639],[297.1,.677],[299,.716],[300.9,.697],[302.2,.677],[303.5,.633],[304.8,.556],[306.4,.466],[307.4,.389],[309.3,.434],[311.3,.434],[312.6,.517],[313.9,.594],[315.2,.658],[317.1,.639],[319,.652],[321,.658],[322.9,.633],[324.8,.575],[326.8,.613],[328.7,.568],[330.6,.549],[332.6,.492],[334.5,.492],[336.5,.479],[338.4,.441],[340.3,.53],[342.3,.517],[344.2,.69],[346.1,.671],[348.1,.658],[350,.645],[352,.62],[353.9,.607],[355.8,.645],[357.8,.62],[359.7,.633],[361.6,.62],[363.6,.581],[365.5,.626],[367.4,.479],[368.7,.517],[370.7,.543],[372.6,.479],[374.5,.498],[376.5,.492],[378.4,.549],[380.3,.607],[381.6,.684],[383.6,.645],[385.5,.594]];

const cumS1 = [[0,0],[32,1],[42,2],[90,3],[95,4],[98,5],[100,6],[102,7],[104,8],[108,9],[123,10],[125,11],[129,12],[145,13],[148,14],[151,15],[174,16],[193,17],[196,18],[198,19],[245,20],[285,21],[343,22],[369,23],[386,23]];
const cumS2 = [[0,0],[32,1],[42,2],[74,3],[90,4],[95,5],[99,7],[102,8],[105,9],[108,10],[123,11],[126,12],[129,13],[145,14],[150,15],[154,16],[177,18],[194,20],[197,21],[203,22],[246,23],[285,24],[343,25],[350,26],[369,27],[375,29],[386,29]];
const cumS3 = [[0,0],[16,1],[21,2],[33,3],[43,4],[53,5],[78,6],[91,7],[95,8],[99,9],[103,11],[105,13],[107,14],[110,15],[117,16],[124,17],[129,18],[131,21],[145,22],[147,23],[151,24],[159,25],[169,26],[177,27],[189,28],[193,29],[198,31],[203,32],[235,33],[246,34],[271,35],[285,36],[327,37],[343,38],[350,39],[369,41],[385,42],[386,42]];
const cumN1 = [[0,0],[32,1],[42,2],[54,3],[74,4],[90,5],[95,7],[98,8],[103,9],[108,10],[117,11],[124,12],[126,13],[133,14],[145,15],[150,16],[174,17],[193,18],[196,20],[246,21],[285,22],[307,24],[343,25],[369,26],[375,27],[386,27]];
const cumN2 = [[0,0],[16,1],[32,2],[43,3],[74,4],[91,5],[95,7],[99,8],[103,11],[105,13],[110,14],[116,16],[124,17],[129,18],[131,21],[145,22],[147,23],[151,24],[159,25],[175,26],[194,28],[198,29],[246,30],[266,31],[286,32],[307,35],[334,36],[342,37],[350,38],[369,39],[376,40],[385,41],[386,41]];
const cumN3 = [[0,0],[16,1],[32,2],[42,3],[74,4],[91,5],[95,7],[98,9],[103,11],[105,13],[109,15],[116,17],[124,18],[127,20],[130,22],[134,24],[145,25],[147,26],[160,27],[175,28],[178,29],[189,31],[193,32],[198,34],[202,36],[233,37],[238,39],[244,41],[246,42],[260,43],[266,44],[278,45],[286,46],[307,48],[309,49],[316,50],[321,51],[327,52],[332,53],[334,55],[339,57],[343,58],[350,59],[360,60],[368,62],[371,63],[376,65],[378,66],[385,67],[386,67]];

const seriesNames = ["S1","S2","S3","N1","N2","N3"];
const tickMonths = ["2015-03-01","2015-05-01","2015-07-01","2015-09-01","2015-11-01","2016-01-01","2016-03-01"];

// ---- styles ----
const FONT = "'Liberation Sans', Arial, sans-serif";
const AX = "#262626";
const STYLE = {
  S1: {stroke: "#0000ff", dash: null},
  S2: {stroke: "#0000ff", dash: "5.5,2.4"},
  S3: {stroke: "#0000ff", dash: "1.5,2.5"},
  N1: {stroke: "#ff0000", dash: null},
  N2: {stroke: "#ff0000", dash: "5.5,2.4"},
  N3: {stroke: "#ff0000", dash: "1.5,2.5"}
};
const swc = {S1: swcS1, S2: swcS2, S3: swcS3, N1: swcN1, N2: swcN2, N3: swcN3};
const tac = {S1: tacS1, S2: tacS2, S3: tacS3, N1: tacN1, N2: tacN2, N3: tacN3};
const cum = {S1: cumS1, S2: cumS2, S3: cumS3, N1: cumN1, N2: cumN2, N3: cumN3};

const T0 = Date.UTC(2015, 1, 12);
const day = d => new Date(T0 + d * 864e5);
const X_DOMAIN = [day(0), day(386.5)];

function seriesLines(table, extra = {}) {
  const order = ["S3","N3","S2","N2","S1","N1"];
  return order.map(k => Plot.line(table[k], {
    x: d => day(d[0]), y: d => d[1],
    stroke: STYLE[k].stroke, strokeWidth: 1.3,
    strokeDasharray: STYLE[k].dash || undefined,
    ...extra
  }));
}

function panel({height, marginTop = 0, marginBottom = 0, yDomain, yReverse = false, yTicks, yFormat, marks, xAxis = false}) {
  const m = [
    ...marks,
    Plot.ruleX([X_DOMAIN[0]], {stroke: AX, strokeWidth: 1.6}),
    Plot.ruleY(yDomain, {stroke: AX, strokeWidth: 1.6}),
    Plot.axisY({ticks: yTicks, tickFormat: yFormat, tickSize: 8, tickPadding: 6, label: null, fontSize: 21, strokeWidth: 1.3})
  ];
  if (xAxis) m.push(Plot.axisX({
    ticks: tickMonths.map(s => new Date(s + "T00:00:00Z")),
    tickFormat: d3.utcFormat("%Y-%m"), tickRotate: -30, tickSize: 8, tickPadding: 7,
    label: null, fontSize: 24, strokeWidth: 1.3, anchor: "bottom"
  }));
  return Plot.plot({
    width: 1111, height, marginLeft: 113, marginRight: 0, marginTop, marginBottom,
    style: {fontFamily: FONT, fontSize: "20px", color: AX, background: "#fff", overflow: "visible"},
    x: {type: "utc", domain: X_DOMAIN, axis: null},
    y: {domain: yDomain, reverse: yReverse, axis: null},
    marks: m
  });
}

function yLabel(svg, parts, cy) {
  const t = d3.select(svg).append("text")
    .attr("transform", `translate(52,${cy}) rotate(-90)`)
    .attr("text-anchor", "middle")
    .attr("font-size", 26).attr("fill", AX).attr("font-family", FONT);
  parts.forEach(p => {
    const ts = t.append("tspan").text(p.t);
    if (p.i) ts.attr("font-style", "italic").attr("font-family", "'DejaVu Sans', sans-serif").attr("font-size", 25);
    if (p.sup) ts.attr("dy", "-0.55em").attr("font-size", 18).attr("font-family", "'DejaVu Sans', sans-serif");
    if (p.down) ts.attr("dy", "0.38em");
  });
}

const root = document.getElementById("chart");

// 1. precipitation
const p1 = panel({
  height: 165, marginTop: 15, yDomain: [0, 51.5], yReverse: true, yTicks: [0, 20, 40], yFormat: d3.format("d"),
  marks: [Plot.rectY(precip, {x1: d => day(d[0]), x2: d => day(d[0] + 1), y: d => d[1], fill: "#000"})]
});
yLabel(p1, [{t: "P ("}, {t: "mm d", i: true}, {t: "\u22121", sup: true}, {t: ")", down: true}], 90);
root.appendChild(p1);

// 2. VPD
const p2 = panel({
  height: 150, yDomain: [0, 3.03], yTicks: [0, 2], yFormat: d3.format("d"),
  marks: [Plot.line(vpd, {x: d => day(d[0]), y: d => d[1], stroke: "#000", strokeWidth: 1.3})]
});
yLabel(p2, [{t: "VPD ("}, {t: "kPA", i: true}, {t: ")"}], 75);
root.appendChild(p2);

// 3. SWC
const p3 = panel({
  height: 250, yDomain: [0.093, 0.344], yTicks: [0.10, 0.15, 0.20, 0.25, 0.30], yFormat: d3.format(".2f"),
  marks: seriesLines(swc)
});
yLabel(p3, [{t: "SWC ("}, {t: "m", i: true}, {t: "3", sup: true}, {t: " m", i: true, down: true}, {t: "\u22123", sup: true}, {t: ")", down: true}], 125);
root.appendChild(p3);

// 4. TAC
const p4 = panel({
  height: 373, yDomain: [0.241, 0.956], yTicks: [0.3, 0.4, 0.5, 0.6, 0.7, 0.8, 0.9], yFormat: d3.format(".1f"),
  marks: seriesLines(tac)
});
yLabel(p4, [{t: "TAC (\u2212)"}], 186.5);
root.appendChild(p4);

// 5. days with TAC < 0.5
const p5 = panel({
  height: 335, marginBottom: 85, yDomain: [-3.3, 71], yTicks: [0, 20, 40, 60], yFormat: d3.format("d"),
  marks: seriesLines(cum, {curve: "step-after"}), xAxis: true
});
yLabel(p5, [{t: "days with TAC < 0.5"}], 125);
const lg = d3.select(p5).append("g").attr("font-family", FONT).attr("font-size", 22).attr("fill", AX);
seriesNames.forEach((k, i) => {
  const col = i < 3 ? 0 : 1, row = i % 3;
  const x0 = col ? 275 : 135, y0 = 31 + row * 34;
  lg.append("line").attr("x1", x0).attr("x2", x0 + 46).attr("y1", y0).attr("y2", y0)
    .attr("stroke", STYLE[k].stroke).attr("stroke-width", 1.3)
    .attr("stroke-dasharray", STYLE[k].dash);
  lg.append("text").attr("x", x0 + 66).attr("y", y0).attr("dy", "0.36em").text(k);
});
root.appendChild(p5);
</script>
</body></html>
